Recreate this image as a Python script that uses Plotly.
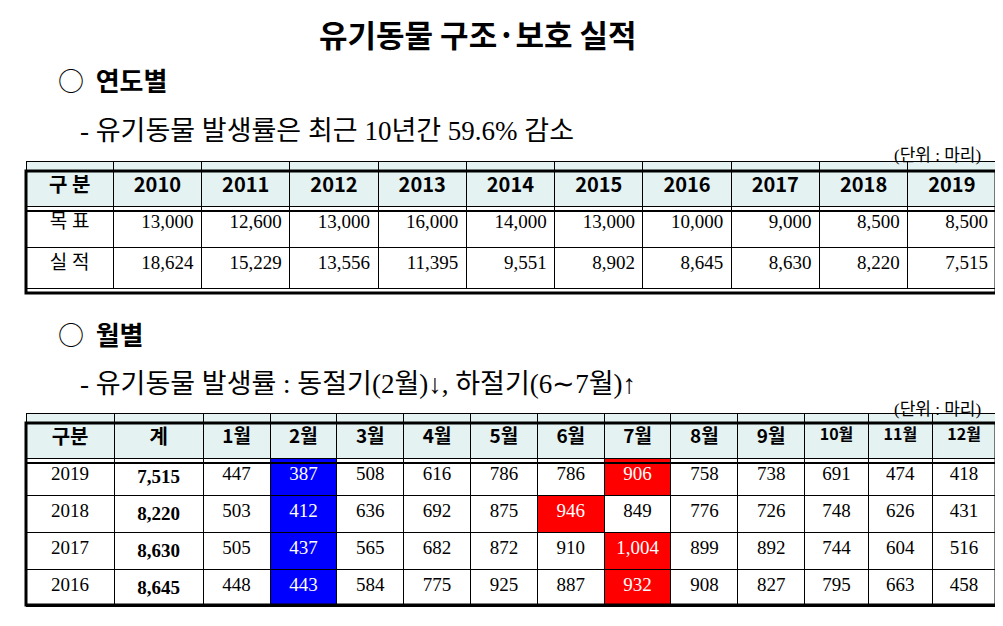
import plotly.graph_objects as go

# data
years = ["2010", "2011", "2012", "2013", "2014", "2015", "2016", "2017", "2018", "2019"]
target = ["13,000", "12,600", "13,000", "16,000", "14,000", "13,000", "10,000", "9,000", "8,500", "8,500"]
actual = ["18,624", "15,229", "13,556", "11,395", "9,551", "8,902", "8,645", "8,630", "8,220", "7,515"]

months = ["1월", "2월", "3월", "4월", "5월", "6월", "7월", "8월", "9월", "10월", "11월", "12월"]
m_years = ["2019", "2018", "2017", "2016"]
m_total = ["7,515", "8,220", "8,630", "8,645"]
m_vals = [
    [447, 387, 508, 616, 786, 786, 906, 758, 738, 691, 474, 418],
    [503, 412, 636, 692, 875, 946, 849, 776, 726, 748, 626, 431],
    [505, 437, 565, 682, 872, 910, 1004, 899, 892, 744, 604, 516],
    [448, 443, 584, 775, 925, 887, 932, 908, 827, 795, 663, 458],
]
# (row, month index) -> highlight colour
highlight = {(0, 1): "blue", (1, 1): "blue", (2, 1): "blue", (3, 1): "blue",
             (0, 6): "red", (1, 5): "red", (2, 6): "red", (3, 6): "red"}

W, H = 1003, 626
HEAD = "#e4f2f2"
SANS = "Noto Sans CJK KR, Noto Sans"
SERIF = "Liberation Serif, Noto Sans CJK KR"
SHIFT = 10  # plotly tables start a little below the domain top

def px_x(v):
    return v / W

def px_y(v):
    return 1 - v / H

fig = go.Figure()

# table 1
fig.add_trace(go.Table(
    domain=dict(x=[px_x(18), px_x(988)], y=[px_y(300), px_y(163 - SHIFT)]),
    columnwidth=[87] + [88] * 10,
    header=dict(values=["<b>구 분</b>"] + [f"<b>{y}</b>" for y in years],
                fill_color=HEAD, line=dict(color="black", width=1),
                font=dict(family=SANS, size=20, color="black"), height=40, align="center"),
    cells=dict(values=[["목 표", "실 적"]] + [[t, a] for t, a in zip(target, actual)],
               fill_color="white", line=dict(color="black", width=1),
               font=dict(family=SERIF, size=19, color="black"), height=41,
               align=["center"] + ["right"] * 10),
))

# table 2
cols = [m_years, [f"<b>{t}</b>" for t in m_total]]
fills = [["white"] * 4, ["white"] * 4]
fcols = [["black"] * 4, ["black"] * 4]
for j in range(12):
    cols.append([f"{m_vals[i][j]:,}" for i in range(4)])
    fills.append([highlight.get((i, j), "white") for i in range(4)])
    fcols.append(["white" if (i, j) in highlight else "black" for i in range(4)])

fig.add_trace(go.Table(
    domain=dict(x=[px_x(18), px_x(988)], y=[px_y(622), px_y(415 - SHIFT)]),
    columnwidth=[87, 88] + [66] * 9 + [63] * 3,
    header=dict(values=["<b>구분</b>", "<b>계</b>"] + [f"<b>{m}</b>" for m in months],
                fill_color=HEAD, line=dict(color="black", width=1),
                font=dict(family=SANS, size=[20, 20] + [19] * 9 + [16] * 3, color="black"),
                height=40, align="center"),
    cells=dict(values=cols, fill_color=fills, line=dict(color="black", width=1),
               font=dict(family=SERIF, size=19, color=fcols), height=35,
               align="center"),
))

# thick outer borders
for top, bottom in [(163, 285), (415, 597)]:
    fig.add_shape(type="rect", xref="paper", yref="paper",
                  x0=px_x(18), x1=px_x(988), y0=px_y(bottom), y1=px_y(top),
                  line=dict(color="black", width=3))
    fig.add_shape(type="line", xref="paper", yref="paper",
                  x0=px_x(18), x1=px_x(988), y0=px_y(top + 40), y1=px_y(top + 40),
                  line=dict(color="black", width=2))

texts = [
    (470, 25, "<b>유기동물 구조·보호 실적</b>", 31, SANS, "center"),
    (48, 72, "○  <b>연도별</b>", 26, SANS, "left"),
    (70, 123, "- 유기동물 발생률은 최근 10년간 59.6% 감소", 27, SERIF, "left"),
    (975, 148, "(단위 : 마리)", 17, SERIF, "right"),
    (48, 325, "○  <b>월별</b>", 26, SANS, "left"),
    (70, 376, "- 유기동물 발생률 : 동절기(2월)↓, 하절기(6∼7월)↑", 27, SERIF, "left"),
    (975, 401, "(단위 : 마리)", 17, SERIF, "right"),
]
for x, y, t, s, f, a in texts:
    fig.add_annotation(x=px_x(x), y=px_y(y), xref="paper", yref="paper", text=t,
                       showarrow=False, xanchor=a, yanchor="middle",
                       font=dict(size=s, family=f, color="black"))

fig.update_layout(width=W, height=H, margin=dict(l=0, r=0, t=0, b=0),
                  paper_bgcolor="white", plot_bgcolor="white")
fig.write_html("out.html")
